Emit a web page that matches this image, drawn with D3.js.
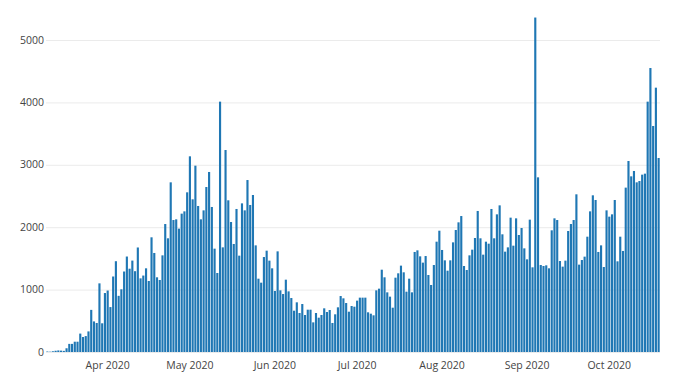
<!DOCTYPE html>
<html>
<head>
<meta charset="utf-8">
<script src="https://cdn.jsdelivr.net/npm/d3@7"></script>
<style>
  body { margin: 0; background: #fff; }
  svg { display: block; font-family: "Open Sans", "DejaVu Sans", sans-serif; }
</style>
</head>
<body>
<svg id="chart"></svg>
<script>
// daily values, one array per month (first day is 10 Mar 2020)
const startDay = "2020-03-10";
const mar = [8, 5, 12, 20, 25, 22, 18, 60, 130, 130, 165, 165, 295, 240, 255, 330, 675, 490, 465, 1100, 460, 945];
const apr = [985, 720, 1210, 1455, 900, 1005, 1290, 1530, 1335, 1465, 1295, 1675, 1180, 1225, 1341, 1138, 1838, 1587, 1197, 1154,
             1549, 2051, 1822, 2719, 2115, 2126, 1977, 2217, 2254, 2559];
const may = [3136, 2447, 2986, 2340, 2126, 2270, 2644, 2885, 2324, 1656, 1266, 4012, 1677, 3237, 2431, 2083, 1731, 2292, 1544, 2382,
             2270, 2756, 2356, 2516, 1709, 1175, 1111, 1522, 1624, 1464, 1341];
const jun = [978, 1613, 988, 929, 1159, 972, 865, 662, 796, 625, 769, 593, 678, 678, 475, 625, 550, 593, 700, 641,
             673, 465, 604, 716, 897, 860, 785, 646, 737, 726];
const jul = [823, 871, 871, 871, 636, 614, 588, 988, 1015, 1319, 1197, 956, 887, 710, 1191, 1261, 1384, 1277, 967, 1175,
             956, 1603, 1629, 1533, 1432, 1538, 1234, 1074, 1394, 1768, 1944];
const aug = [1635, 1469, 1303, 1469, 1757, 1955, 2078, 2179, 1378, 1314, 1549, 1640, 1827, 2260, 1822, 1560, 1768, 1736, 2292, 1822,
             2206, 2350, 1886, 1608, 1677, 2153, 1704, 2142, 1875, 1987, 1661];
const sep = [1485, 2121, 1357, 5360, 2799, 1394, 1378, 1389, 1341, 1950, 2142, 2115, 1458, 1368, 1464, 1939, 2051, 2115, 2527, 1400,
             1474, 1528, 1848, 2254, 2511, 2436, 1603, 1709, 1362, 2270];
const oct = [2169, 2206, 2436, 1453, 1848, 1619, 2634, 3061, 2815, 2901, 2719, 2740, 2842, 2858, 4012, 4551, 3622, 4236, 3109];
const yTicks = [0, 1000, 2000, 3000, 4000, 5000];

const width = 680, height = 389;
const margin = { top: 40, right: 20, bottom: 37, left: 46 };

const values = [...mar, ...apr, ...may, ...jun, ...jul, ...aug, ...sep, ...oct];
const first = d3.utcParse("%Y-%m-%d")(startDay);
const data = values.map((v, i) => ({ date: d3.utcDay.offset(first, i), value: v }));
const last = data[data.length - 1].date;

const svg = d3.select("#chart")
    .attr("width", width)
    .attr("height", height);

svg.append("rect").attr("width", width).attr("height", height).attr("fill", "#fff");

const x = d3.scaleUtc()
    .domain([d3.utcHour.offset(first, -12), d3.utcHour.offset(last, 12)])
    .range([margin.left, width - margin.right]);

const y = d3.scaleLinear()
    .domain([0, 5000])
    .range([height - margin.bottom, margin.top]);

const dayW = x(d3.utcDay.offset(first, 1)) - x(first);
const barW = dayW * 0.78;

// gridlines
svg.append("g")
    .selectAll("line")
    .data(yTicks)
    .join("line")
    .attr("x1", margin.left)
    .attr("x2", width - margin.right)
    .attr("y1", d => y(d) + 0.5)
    .attr("y2", d => y(d) + 0.5)
    .attr("stroke", "#ebebeb")
    .attr("stroke-width", 1);

// y labels
svg.append("g")
    .selectAll("text")
    .data(yTicks)
    .join("text")
    .attr("x", margin.left - 2)
    .attr("y", d => y(d))
    .attr("dy", "0.35em")
    .attr("text-anchor", "end")
    .attr("fill", "#444")
    .style("font-size", "10.5px")
    .text(d => d);

// bars
svg.append("g")
    .selectAll("rect")
    .data(data)
    .join("rect")
    .attr("x", d => x(d.date) - barW / 2)
    .attr("width", barW)
    .attr("y", d => y(d.value))
    .attr("height", d => y(0) - y(d.value))
    .attr("fill", "#1f77b4");

// x labels
const months = d3.utcMonth.range(d3.utcMonth.ceil(first), last);
svg.append("g")
    .selectAll("text")
    .data(months)
    .join("text")
    .attr("x", d => x(d))
    .attr("y", y(0) + 10)
    .attr("dy", "0.71em")
    .attr("text-anchor", "middle")
    .attr("fill", "#444")
    .style("font-size", "10.5px")
    .text(d3.utcFormat("%b %Y"));
</script>
</body>
</html>
